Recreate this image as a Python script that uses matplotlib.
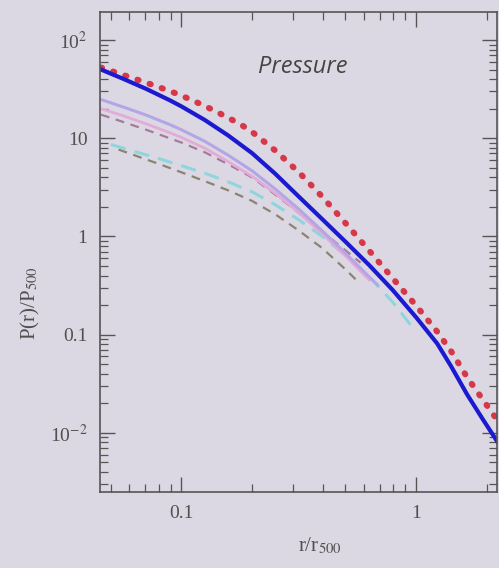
import matplotlib.pyplot as plt

# values (r/r500, P/P500)
r_blue = [0.0454, 0.0562, 0.0708, 0.0891, 0.1, 0.126, 0.158, 0.2, 0.251, 0.316,
          0.398, 0.501, 0.631, 0.794, 1.0, 1.23, 1.41, 1.65, 1.91, 2.22]
p_blue = [50.1, 40.5, 31.8, 24.4, 21.1, 15.3, 10.7, 7.05, 4.35, 2.55,
          1.5, 0.88, 0.51, 0.285, 0.15, 0.081, 0.0475, 0.0245, 0.0141, 0.0081]

r_red = [0.0454, 0.0562, 0.0708, 0.0891, 0.1, 0.126, 0.158, 0.179, 0.2, 0.251, 0.316,
         0.398, 0.501, 0.631, 0.685, 0.794, 1.0, 1.23, 1.41, 1.65, 1.91, 2.17]
p_red = [52.5, 44.3, 36.8, 30.3, 27.2, 21.3, 16.2, 13.8, 11.6, 7.5, 4.52,
         2.54, 1.36, 0.716, 0.568, 0.376, 0.197, 0.107, 0.0676, 0.0367, 0.0223, 0.0145]

r_lav = [0.0454, 0.0562, 0.0708, 0.0891, 0.1, 0.126, 0.158, 0.2, 0.251, 0.316,
         0.398, 0.501, 0.631, 0.685]
p_lav = [24.8, 20.9, 17.2, 13.8, 12.2, 9.29, 6.73, 4.66, 3.04, 1.90,
         1.14, 0.673, 0.387, 0.32]

r_pink = [0.0454, 0.0562, 0.0708, 0.0891, 0.1, 0.126, 0.158, 0.2, 0.251, 0.316,
          0.398, 0.501, 0.631]
p_pink = [20.0, 17.0, 14.0, 11.4, 10.2, 7.9, 5.8, 4.1, 2.75, 1.75,
          1.06, 0.63, 0.36]

r_mauve = [0.0454, 0.0562, 0.0708, 0.0891, 0.1, 0.126, 0.158, 0.2, 0.251, 0.316,
           0.398, 0.501, 0.58]
p_mauve = [17.4, 14.7, 12.2, 10.0, 9.04, 7.18, 5.44, 3.99, 2.67, 1.74,
           1.12, 0.718, 0.54]

r_cyan = [0.0501, 0.0631, 0.0794, 0.1, 0.126, 0.158, 0.2, 0.251, 0.316, 0.398,
          0.501, 0.64, 0.794, 0.975]
p_cyan = [8.63, 7.35, 6.25, 5.26, 4.4, 3.6, 2.85, 2.1, 1.48, 1.0,
          0.64, 0.375, 0.215, 0.115]

r_gray = [0.054, 0.0631, 0.0794, 0.1, 0.126, 0.158, 0.2, 0.251, 0.316, 0.398,
          0.501, 0.563]
p_gray = [7.67, 6.71, 5.52, 4.5, 3.65, 2.95, 2.3, 1.68, 1.15, 0.76,
          0.46, 0.35]

ytick_vals = [0.01, 0.1, 1, 10, 100]
ytick_labels = ['10$^{-2}$', '0.1', '1', '10', '10$^{2}$']
xtick_vals = [0.1, 1]
xtick_labels = ['0.1', '1']

bg = '#dcd8e3'
plt.rcParams['font.family'] = ['Liberation Serif', 'DejaVu Serif']
plt.rcParams['mathtext.fontset'] = 'stix'

fig = plt.figure(figsize=(4.99, 5.68), dpi=100, facecolor=bg)
ax = fig.add_axes([0.2004, 0.1338, 0.7956, 0.8451], facecolor=bg)

ax.plot(r_gray, p_gray, color='#8a8470', lw=1.6, ls=(0, (4, 3)))
ax.plot(r_cyan, p_cyan, color='#8fd6dc', lw=2.2, ls=(0, (5, 3)))
ax.plot(r_mauve, p_mauve, color='#a47c98', lw=1.6, ls=(0, (4, 3)))
ax.plot(r_pink, p_pink, color='#e2abd8', lw=2.0)
ax.plot(r_lav, p_lav, color='#b4a6e6', lw=2.2)
ax.plot(r_red, p_red, color='#d63848', lw=4.4, ls=(0, (0.2, 1.9)),
        dash_capstyle='round')
ax.plot(r_blue, p_blue, color='#1c1ad0', lw=3.0)

ax.set_xscale('log')
ax.set_yscale('log')
ax.set_xlim(0.045, 2.21)
ax.set_ylim(0.0025, 193)

ax.set_yticks(ytick_vals)
ax.set_yticklabels(ytick_labels)
ax.set_xticks(xtick_vals)
ax.set_xticklabels(xtick_labels)

ax.tick_params(which='both', direction='in', top=True, right=True,
               color='#555555', labelcolor='#505050', labelsize=14)
ax.tick_params(which='major', length=11, width=1.0, pad=9)
ax.tick_params(which='minor', length=6, width=0.9)
for s in ax.spines.values():
    s.set_color('#555555')
    s.set_linewidth(1.2)

ax.text(0.51, 0.885, 'Pressure', transform=ax.transAxes, ha='center',
        va='center', fontsize=17, style='italic', color='#454545',
        family=['Open Sans', 'DejaVu Sans'])

fig.text(0.062, 0.467, 'P(r)/P$_{500}$', rotation=90, ha='center',
         va='center', fontsize=15, color='#505050')
fig.text(0.64, 0.038, 'r/r$_{500}$', ha='center', va='center',
         fontsize=15, color='#505050')

fig.savefig('out.png', dpi=100, facecolor=bg)
